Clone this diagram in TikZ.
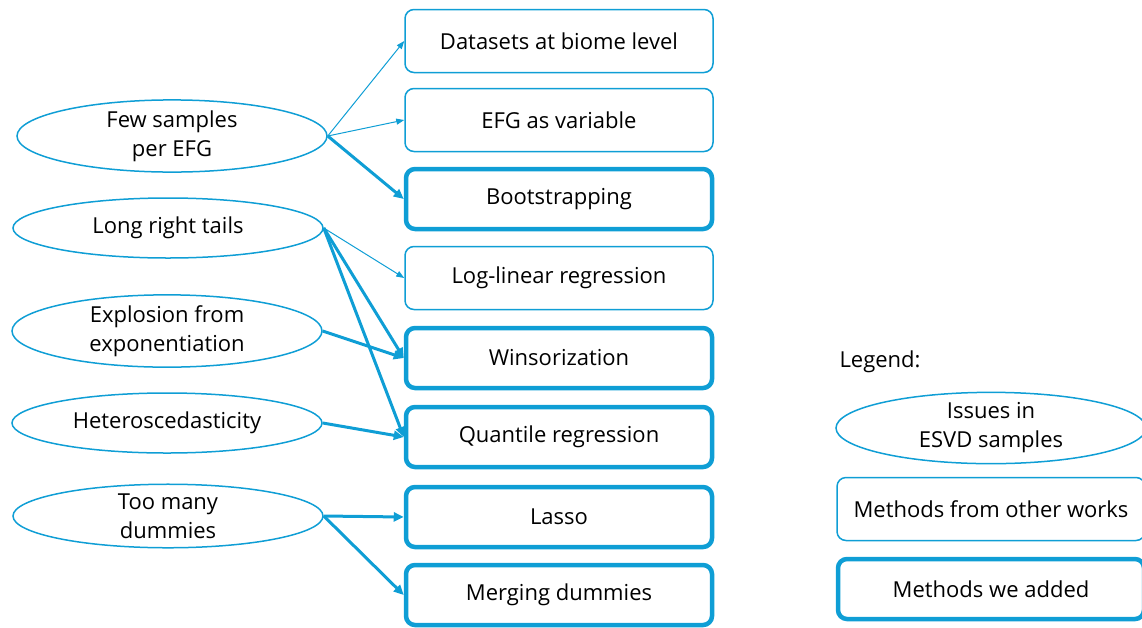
\documentclass[tikz,border=0pt]{standalone}
\usepackage{fontspec}
\setmainfont{Open Sans}
\usetikzlibrary{arrows.meta,shapes.geometric}
\definecolor{acc}{HTML}{0F9ED5}
\begin{document}
\begin{tikzpicture}[x=1pt,y=-1pt,
  font=\fontsize{22}{29}\selectfont,
  issue/.style={draw=acc,line width=1.5pt,ellipse,minimum width=310pt,minimum height=60pt,inner sep=0pt,align=center},
  other/.style={draw=acc,line width=1.5pt,rounded corners=9pt,minimum width=308pt,minimum height=63pt,inner sep=0pt},
  ours/.style={other,line width=4.5pt,minimum width=306pt,minimum height=60pt},
  thinarrow/.style={acc,line width=1pt,-{Triangle[length=8pt,width=6pt]}},
  thickarrow/.style={acc,line width=3pt,-{Triangle[length=10pt,width=9pt]}}]
\useasboundingbox (0,0) rectangle (1142,627);
% methods
\node[other] (b1) at (559,41) {Datasets at biome level};
\node[other] (b2) at (559,120) {EFG as variable};
\node[ours]  (b3) at (559,199) {Bootstrapping};
\node[other] (b4) at (559,278) {Log-linear regression};
\node[ours]  (b5) at (559,358) {Winsorization};
\node[ours]  (b6) at (559,437) {Quantile regression};
\node[ours]  (b7) at (559,517) {Lasso};
\node[ours]  (b8) at (559,595) {Merging dummies};
% issues
\node[issue] (e1) at (172,136) {Few samples\\per EFG};
\node[issue] (e2) at (168,228) {Long right tails};
\node[issue] (e3) at (167,331) {Explosion from\\exponentiation};
\node[issue] (e4) at (167,423) {Heteroscedasticity};
\node[issue] (e5) at (168,516) {Too many\\dummies};
% connectors
\draw[thinarrow] (e1.east) -- (b1.west);
\draw[thinarrow] (e1.east) -- (b2.west);
\draw[thickarrow] (e1.east) -- (b3.west);
\draw[thinarrow] (e2.east) -- (b4.west);
\draw[thickarrow] (e2.east) -- (b5.west);
\draw[thickarrow] (e2.east) -- (b6.west);
\draw[thickarrow] (e3.east) -- (b5.west);
\draw[thickarrow] (e4.east) -- (b6.west);
\draw[thickarrow] (e5.east) -- (b7.west);
\draw[thickarrow] (e5.east) -- (b8.west);
% legend
\node[anchor=west] (lg) at (836,362) {Legend:};
\node[issue] (li) at (991,428) {Issues in\\ESVD samples};
\node[other] (lo) at (991,509) {Methods from other works};
\node[ours]  (la) at (991,589) {Methods we added};
\end{tikzpicture}
\end{document}
